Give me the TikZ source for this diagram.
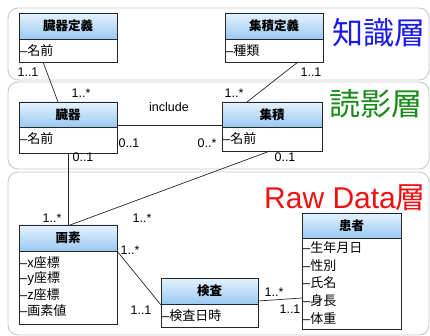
\documentclass[tikz,border=0pt]{standalone}
\usepackage{fontspec}
\setmainfont{Liberation Sans}
\newfontfamily\jp{Noto Sans CJK JP}
\usetikzlibrary{calc}
\definecolor{hdtop}{HTML}{E6F2FD}
\definecolor{hdbot}{HTML}{99C9F3}
\definecolor{layergray}{HTML}{C8C8C8}
\definecolor{bluetxt}{HTML}{1A1AE8}
\definecolor{greentxt}{HTML}{178A17}
\definecolor{redtxt}{HTML}{F01010}
\newcommand{\dsh}{{\rmfamily –}}
\begin{document}
\begin{tikzpicture}[x=1pt,y=-1pt,
  layerbox/.style={draw=layergray,line width=0.9pt,rounded corners=10pt},
  cls/.style={anchor=north west,inner sep=0pt,outer sep=0pt},
  frame/.style={draw=black!85,line width=0.8pt},
  hdr/.style={top color=hdtop,bottom color=hdbot,draw=none},
  title/.style={font=\jp\fontsize{12.5}{14}\selectfont\bfseries,inner sep=0pt},
  attr/.style={font=\jp\fontsize{13}{15}\selectfont,anchor=west,inner sep=0pt},
  mult/.style={font=\fontsize{12.5}{14}\selectfont,inner sep=0pt},
  conn/.style={draw=black!85,line width=0.7pt},
  big/.style={font=\jp\fontsize{31}{34}\selectfont,inner sep=0pt}
]
\useasboundingbox (0,0) rectangle (430,336);
% layers
\draw[layerbox] (8,8) rectangle (429,80);
\draw[layerbox] (8,82) rectangle (429,169);
\draw[layerbox] (8,172) rectangle (429,335);

% class nodes
\node[cls,minimum width=98pt,minimum height=49pt] (kd) at (19,13) {};
\node[cls,minimum width=98pt,minimum height=49pt] (sd) at (225,13) {};
\node[cls,minimum width=98pt,minimum height=51pt] (zk) at (19,102) {};
\node[cls,minimum width=100pt,minimum height=49pt] (sk) at (222,102) {};
\node[cls,minimum width=98pt,minimum height=99pt] (gs) at (19,225) {};
\node[cls,minimum width=97pt,minimum height=49pt] (kn) at (161,278) {};
\node[cls,minimum width=99pt,minimum height=116pt] (kj) at (302,213) {};

% headers and frames
\foreach \n/\h in {kd/26,sd/26,zk/25,sk/25,gs/26,kn/26,kj/25}{
  \shade[hdr] (\n.north west) rectangle ($(\n.north east)+(0,\h)$);
  \draw[frame] (\n.north west) rectangle (\n.south east);
  \draw[frame] ($(\n.north west)+(0,\h)$) -- ($(\n.north east)+(0,\h)$);
}

% titles
\node[title] at ($(kd.north)+(0,13)$) {臓器定義};
\node[title] at ($(sd.north)+(0,13)$) {集積定義};
\node[title] at ($(zk.north)+(0,12.5)$) {臓器};
\node[title] at ($(sk.north)+(0,12.5)$) {集積};
\node[title] at ($(gs.north)+(0,13)$) {画素};
\node[title] at ($(kn.north)+(0,13)$) {検査};
\node[title] at ($(kj.north)+(0,12.5)$) {患者};

% attributes
\node[attr] at ($(kd.north west)+(1,37.5)$) {\dsh 名前};
\node[attr] at ($(sd.north west)+(1,37.5)$) {\dsh 種類};
\node[attr] at ($(zk.north west)+(1,36.5)$) {\dsh 名前};
\node[attr] at ($(sk.north west)+(1,36.5)$) {\dsh 名前};
\foreach \t [count=\i] in {x座標,y座標,z座標,画素値}
  \node[attr] at ($(gs.north west)+(1,{38+(\i-1)*15.8})$) {\dsh\t};
\node[attr] at ($(kn.north west)+(1,37.5)$) {\dsh 検査日時};
\foreach \t [count=\i] in {生年月日,性別,氏名,身長,体重}
  \node[attr] at ($(kj.north west)+(1,{34.5+(\i-1)*17.7})$) {\dsh\t};

% connectors
\draw[conn] ($(kd.south west)+(24,0)$) -- ($(zk.north west)+(39,0)$);
\draw[conn] ($(sd.south west)+(73,0)$) -- ($(sk.north west)+(25,0)$);
\draw[conn] ($(zk.north east)+(0,23)$) -- ($(sk.north west)+(0,23)$);
\draw[conn] (zk.south) -- (gs.north);
\draw[conn] ($(sk.south west)+(48,0)$) -- ($(gs.north)+(2,0)$);
\draw[conn] ($(gs.north east)+(0,26)$) -- ($(kn.north west)+(0,27)$);
\draw[conn] ($(kn.north east)+(0,23)$) -- ($(kj.north west)+(0,85)$);

% multiplicities
\node[mult] (m1) at (28,72) {1..1};
\node[mult] (m2) at (81,93) {1..*};
\node[mult] (m3) at (311,72) {1..1};
\node[mult] (m4) at (234,93) {1..*};
\node[mult] (m5) at (169,107) {include};
\node[mult] (m6) at (129,143) {0..1};
\node[mult] (m7) at (207,143) {0..*};
\node[mult] (m8) at (83,157) {0..1};
\node[mult] (m9) at (285,157) {0..1};
\node[mult] (m10) at (52,218) {1..*};
\node[mult] (m11) at (142,218) {1..*};
\node[mult] (m12) at (130,250) {1..*};
\node[mult] (m13) at (141,310) {1..1};
\node[mult] (m14) at (274,292) {1..*};
\node[mult] (m15) at (290,309) {1..1};

% layer titles
\node[big,text=bluetxt] (t1) at (379,33) {知識層};
\node[big,text=greentxt] (t2) at (376,104) {読影層};
\node[big,text=redtxt,anchor=west] (t3) at (264,198) {\fontsize{30}{34}\selectfont\rmfamily Raw Data\jp 層};
\end{tikzpicture}
\end{document}
